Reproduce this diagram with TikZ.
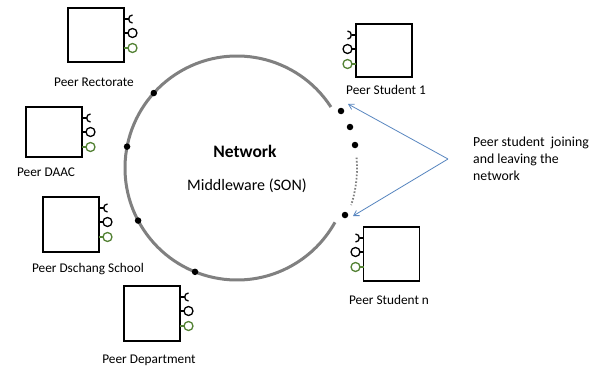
\documentclass[tikz,border=0pt]{standalone}
\usepackage{fontspec}
\setmainfont{Carlito}
\usetikzlibrary{calc,arrows.meta}
\definecolor{netgray}{RGB}{128,128,128}
\definecolor{portgreen}{RGB}{84,130,53}
\definecolor{arrowblue}{RGB}{88,134,192}
\tikzset{
  peerbox/.style={draw=black, line width=1.4pt, minimum width=56pt, minimum height=54pt, inner sep=0pt},
  port/.style={line width=1.3pt},
  lbl/.style={anchor=base, inner sep=0pt, font=\fontsize{13.3}{15}\selectfont},
  netarc/.style={draw=netgray, line width=3pt},
  netdot/.style={circle, fill=black, minimum size=6.5pt, inner sep=0pt},
  joinarrow/.style={draw=arrowblue, line width=0.8pt, -{Straight Barb[length=5pt,width=6pt]}},
}
\newcommand\portsright[2]{%
  \draw[port] (#1,#2+11) -- (#1+4.5,#2+11);
  \draw[port] (#1+8.5,#2+7) .. controls (#1+3.5,#2+7) and (#1+3.5,#2+15) .. (#1+8.5,#2+15);
  \draw[port] (#1,#2+25) -- (#1+4,#2+25);
  \draw[port] (#1+8.5,#2+25) circle[radius=4.5pt];
  \draw[port,portgreen] (#1,#2+40) -- (#1+4,#2+40);
  \draw[port,portgreen] (#1+8.5,#2+40) circle[radius=4.5pt];
}
\newcommand\portsleft[2]{%
  \draw[port] (#1,#2+11) -- (#1-4.5,#2+11);
  \draw[port] (#1-8.5,#2+7) .. controls (#1-3.5,#2+7) and (#1-3.5,#2+15) .. (#1-8.5,#2+15);
  \draw[port] (#1,#2+25) -- (#1-4,#2+25);
  \draw[port] (#1-8.5,#2+25) circle[radius=4.5pt];
  \draw[port,portgreen] (#1,#2+40) -- (#1-4,#2+40);
  \draw[port,portgreen] (#1-8.5,#2+40) circle[radius=4.5pt];
}
\begin{document}
\begin{tikzpicture}[x=1pt,y=-1pt]
\useasboundingbox[fill=white] (0,0) rectangle (594,369);

% network ring
\coordinate (c) at (237,168);
\draw[netarc] ($(c)+(33:112pt)$) arc[start angle=33, end angle=331, radius=112pt];
\draw[netgray, line width=1.8pt, dash pattern=on 1.6pt off 1.8pt]
  ($(c)+(5:120pt)$) arc[start angle=5, end angle=-18, radius=120pt];

\node[netdot] (d1) at ($(c)+(138:112pt)$) {};
\node[netdot] (d2) at ($(c)+(169:112pt)$) {};
\node[netdot] (d3) at ($(c)+(208:112pt)$) {};
\node[netdot] (d4) at ($(c)+(248:112pt)$) {};
\node[netdot] (s1) at (341,111) {};
\node[netdot] (s2) at (350,127) {};
\node[netdot] (s3) at (355,145) {};
\node[netdot] (sn) at (345,215) {};

\node[anchor=base, inner sep=0pt, font=\fontsize{17.5}{20}\selectfont\bfseries] (net) at (245,157) {Network};
\node[anchor=base, inner sep=0pt, font=\fontsize{16}{19}\selectfont] (mw) at (247,190) {Middleware (SON)};

% peers
\node[peerbox] (rect) at (96,35) {};
\portsright{124}{8}
\node[lbl] (rectl) at (94,86) {Peer Rectorate};

\node[peerbox, minimum height=50pt] (daac) at (54,132) {};
\portsright{82}{107}
\node[lbl] (daacl) at (46,176) {Peer DAAC};

\node[peerbox, minimum height=55pt] (dsch) at (71,224.5) {};
\portsright{99}{197}
\node[lbl] (dschl) at (88,272) {Peer Dschang School};

\node[peerbox, minimum height=55pt] (dept) at (152,313.5) {};
\portsright{180}{286}
\node[lbl] (deptl) at (149,363) {Peer Department};

\node[peerbox, minimum height=53pt] (stu1) at (384,50.5) {};
\portsleft{356}{24}
\node[lbl] (stu1l) at (386,94) {Peer Student 1};

\node[peerbox] (stun) at (391.5,254) {};
\portsleft{364}{227}
\node[lbl] (stunl) at (389,304) {Peer Student n};

% joining/leaving note
\node[anchor=north west, inner sep=0pt, align=left, font=\fontsize{13.8}{17}\selectfont] (note) at (473,137)
  {Peer student~~joining\\and leaving the\\network};
\coordinate (src) at (448,159);
\coordinate (t1) at (348,104);
\coordinate (t2) at (353,216);
\draw[joinarrow] (src) -- (t1);
\draw[joinarrow] (src) -- (t2);
\end{tikzpicture}
\end{document}
